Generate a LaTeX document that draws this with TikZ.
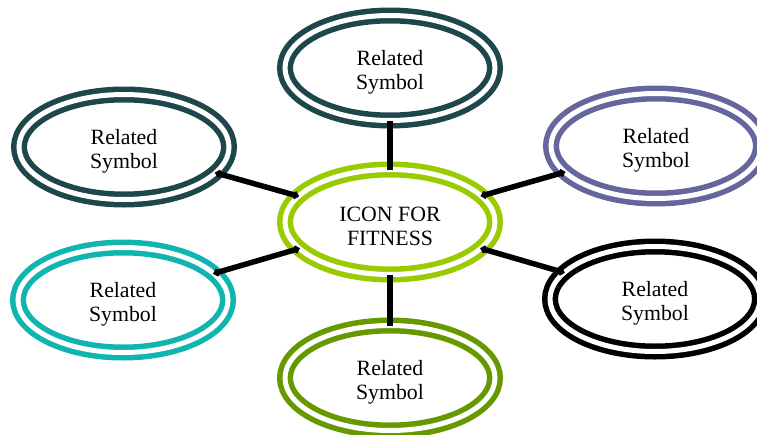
\documentclass[tikz,border=0pt]{standalone}
\usepackage{fontspec}
\setmainfont{Liberation Serif}
\usetikzlibrary{shapes.geometric,arrows.meta}
\definecolor{darkteal}{HTML}{1E474B}
\definecolor{lavender}{HTML}{66669E}
\definecolor{lime}{HTML}{99CC00}
\definecolor{aqua}{HTML}{10B5B0}
\definecolor{olive}{HTML}{669900}
\begin{document}
\begin{tikzpicture}[x=1pt,y=-1pt,
  ring/.style={ellipse, draw=#1, line width=5.5pt, double=white, double distance=5pt,
    minimum width=210pt, minimum height=105pt, inner sep=0pt, outer sep=0pt,
    align=center, text height=47pt, font=\fontsize{21.8}{24}\selectfont},
  conn/.style={draw=black, line width=5.5pt},
  dotted conn/.style={conn, {Circle[length=7pt]}-{Circle[length=7pt]}}]
\useasboundingbox (0,0) rectangle (757,434);
\node[ring=lime]     (c)   at (390,222) {ICON FOR\\FITNESS};
\node[ring=darkteal] (top) at (390,68)  {Related\\Symbol};
\node[ring=olive]    (bot) at (390,378) {Related\\Symbol};
\node[ring=darkteal] (tl)  at (124,147) {Related\\Symbol};
\node[ring=lavender] (tr)  at (656,146) {Related\\Symbol};
\node[ring=aqua]     (bl)  at (123,300) {Related\\Symbol};
\node[ring=black]    (br)  at (655,299) {Related\\Symbol};
\draw[conn] (top) -- (c);
\draw[conn] (c) -- (bot);
\draw[dotted conn] (tl) -- (c);
\draw[dotted conn] (c) -- (tr);
\draw[dotted conn] (bl) -- (c);
\draw[dotted conn] (c) -- (br);
\end{tikzpicture}
\end{document}
